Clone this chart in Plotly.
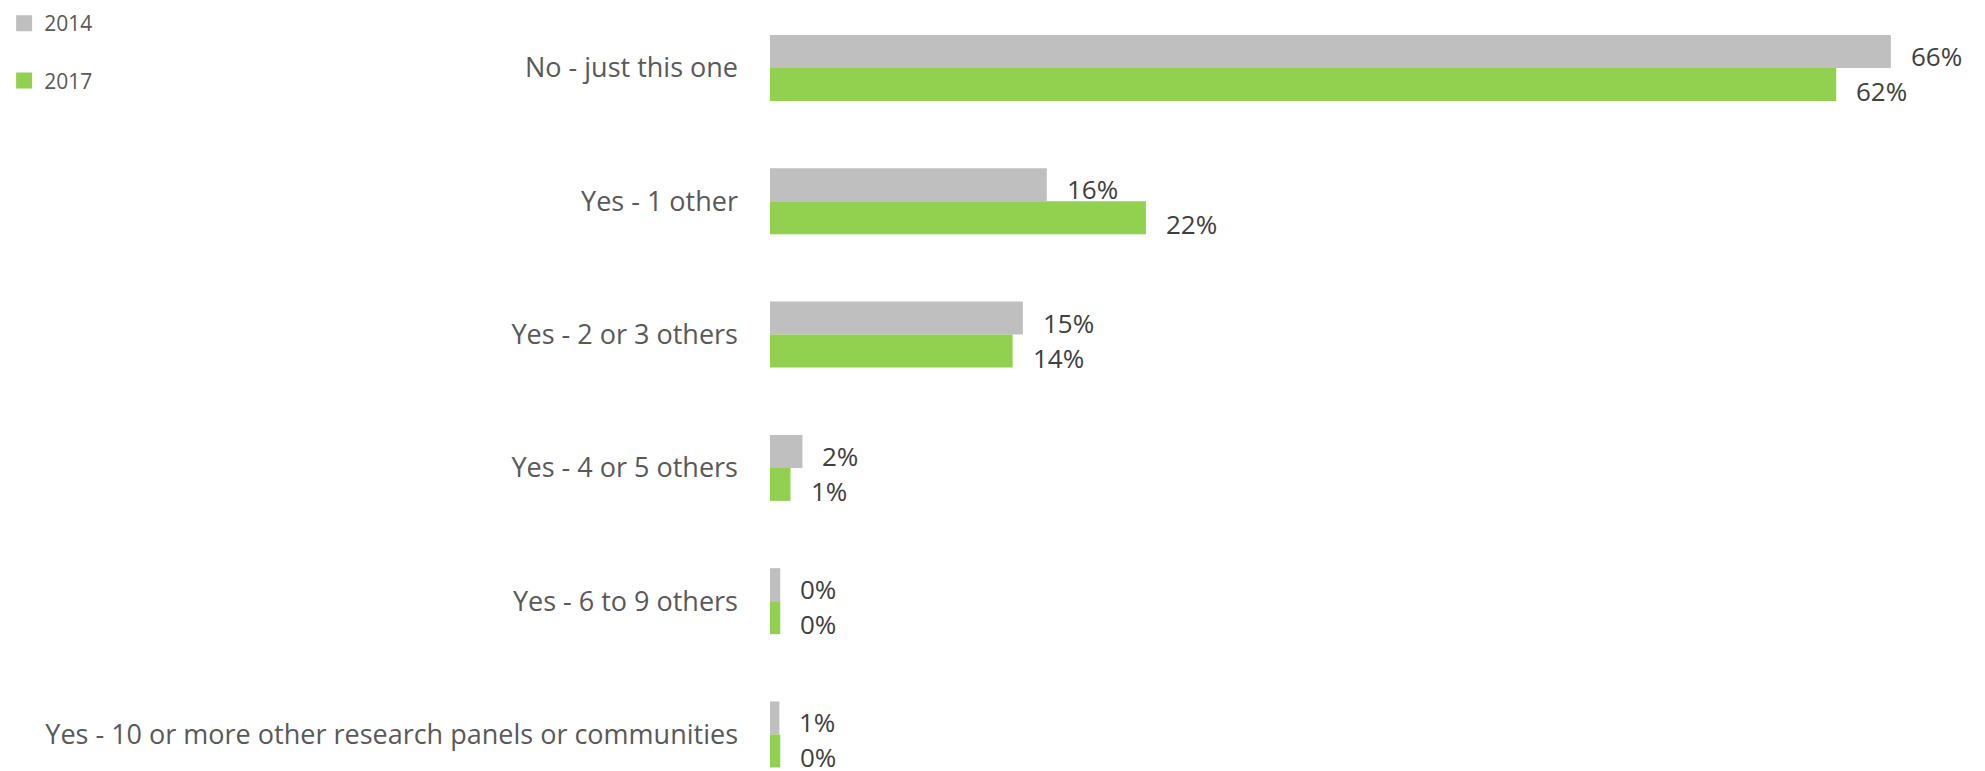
import plotly.graph_objects as go

categories = [
    "No - just this one",
    "Yes - 1 other",
    "Yes - 2 or 3 others",
    "Yes - 4 or 5 others",
    "Yes - 6 to 9 others",
    "Yes - 10 or more other research panels or communities",
]
series_names = ["2014", "2017"]
values_2014 = [65.6, 16.2, 14.8, 1.9, 0.6, 0.55]
values_2017 = [62.4, 22.0, 14.2, 1.2, 0.6, 0.6]
labels_2014 = ["66%", "16%", "15%", "2%", "0%", "1%"]
labels_2017 = ["62%", "22%", "14%", "1%", "0%", "0%"]

colors = ["#BFBFBF", "#92D050"]
font_family = "Open Sans"

fig = go.Figure()
series = [(values_2014, labels_2014), (values_2017, labels_2017)]
for i, (vals, labs) in enumerate(series):
    fig.add_trace(go.Bar(
        y=categories, x=vals, orientation="h", name=series_names[i],
        marker=dict(color=colors[i], line=dict(width=0)),
        legendgroup=series_names[i], showlegend=False, hoverinfo="skip",
    ))
# legend entries with larger square swatches
for i, name in enumerate(series_names):
    fig.add_trace(go.Scatter(
        x=[None], y=[None], mode="markers", name=name,
        marker=dict(symbol="square", size=16, color=colors[i]),
        legendgroup=name, showlegend=True, hoverinfo="skip",
    ))

annotations = []
yshifts = [12, -23]
xshifts = [18, 18]
for i, (vals, labs) in enumerate(series):
    for c, v, t in zip(categories, vals, labs):
        annotations.append(dict(
            x=v, y=c, xref="x", yref="y", text=t, showarrow=False,
            xanchor="left", yanchor="middle", xshift=xshifts[i], yshift=yshifts[i],
            height=26,
            font=dict(family=font_family, size=26, color="#404040"),
        ))

fig.update_layout(
    width=1970, height=763,
    margin=dict(l=762, r=0, t=0, b=0, autoexpand=False),
    paper_bgcolor="white", plot_bgcolor="white",
    barmode="group", bargap=0.505, bargroupgap=0,
    font=dict(family=font_family, color="#595959"),
    showlegend=True,
    legend=dict(
        xref="paper", yref="paper", x=-0.634, y=1.0065,
        xanchor="left", yanchor="top",
        traceorder="grouped", tracegroupgap=27,
        font=dict(family=font_family, size=21, color="#595959"),
        bgcolor="rgba(0,0,0,0)",
    ),
    annotations=annotations,
)
fig.update_xaxes(range=[0, 70.7], visible=False, showgrid=False, zeroline=False)
fig.update_yaxes(
    range=[5.274, -0.45], autorange=False, showgrid=False, zeroline=False,
    showline=False, ticks="", ticklabelstandoff=31,
    tickfont=dict(family=font_family, size=27, color="#595959"),
)

fig.write_html("out.html")
